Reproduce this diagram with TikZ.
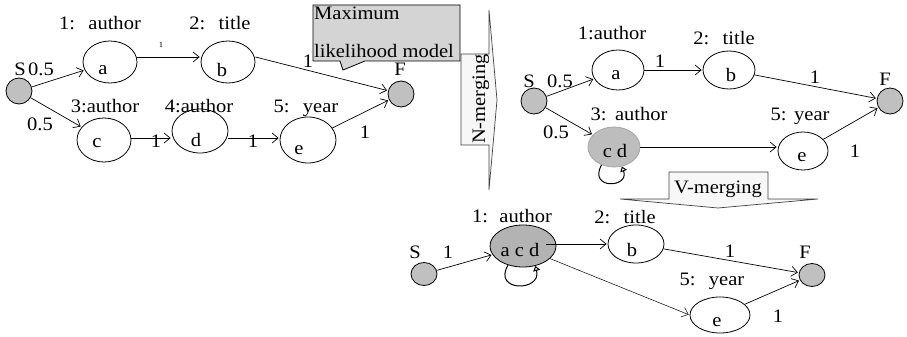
\documentclass[tikz,border=0pt]{standalone}
\usepackage{fontspec}
\setmainfont[FakeStretch=1.08]{Liberation Serif}
\usetikzlibrary{shapes.geometric,arrows.meta}
\definecolor{termgray}{HTML}{C0C0C0}
\definecolor{cdgray}{HTML}{BDBDBD}
\definecolor{acdgray}{HTML}{B3B3B3}
\definecolor{callgray}{HTML}{D4D4D4}
\definecolor{arrowfill}{HTML}{F7F7F7}
\begin{document}
\begin{tikzpicture}[x=1pt,y=-1pt,
  font=\fontsize{19}{22}\selectfont,
  every node/.style={inner sep=0pt},
  state/.style={draw, ellipse, line width=0.8pt},
  term/.style={draw, ellipse, fill=termgray, line width=0.8pt, minimum width=26pt, minimum height=26pt},
  tx/.style n args={3}{label={[anchor=base,xshift=#1pt,yshift=-#2pt]center:#3}},
  lbl/.style={anchor=base},
  edge/.style={draw, line width=0.7pt, -{Straight Barb[length=6pt,width=10pt]}, shorten >=1pt},
  selfloop/.style={draw, line width=1pt, -{Triangle[open,fill=white,length=5pt,width=7pt]}},
  blockarrow/.style={draw=black!75, line width=0.7pt, fill=arrowfill},
]
\useasboundingbox (0,0) rectangle (907,337);

% ---------- left graph ----------
\node[term] (S1) at (19,91) {};
\node[state, minimum width=54pt, minimum height=42pt, tx={-7}{8}{a}] (a1) at (110,62) {};
\node[state, minimum width=54pt, minimum height=42pt, tx={-6}{8}{b}] (b1) at (228,62) {};
\node[term] (F1) at (401,94) {};
\node[state, minimum width=54pt, minimum height=44pt, tx={-7}{3}{c}] (c1) at (104,140) {};
\node[state, minimum width=56pt, minimum height=44pt, tx={-4}{9}{d}] (d1) at (200,131) {};
\node[state, minimum width=56pt, minimum height=46pt, tx={-9}{10}{e}] (e1) at (308,140) {};

\node[lbl] (l1a) at (100,30) {1:\hspace{0.7em}author};
\node[lbl] (l1b) at (220,30) {2:\hspace{0.7em}title};
\node[lbl] (l1c) at (105,112) {3:author};
\node[lbl] (l1d) at (199,112) {4:author};
\node[lbl] (l1e) at (306,112) {5:\hspace{0.7em}year};
\node[lbl] (s1S) at (20,75) {S};
\node[lbl] (s1F) at (400,75) {F};
\node[lbl] (w11) at (41,75) {0.5};
\node[lbl] (w12) at (40,130) {0.5};
\node[lbl, font=\fontsize{8}{9}\selectfont] (w13) at (161,48) {1};
\node[lbl] (w14) at (308,67) {1};
\node[lbl] (w15) at (156,147) {1};
\node[lbl] (w16) at (253,147) {1};
\node[lbl] (w17) at (365,138) {1};

\draw[edge] (S1) -- (a1);
\draw[edge] (S1) -- (c1);
\draw[edge] ([yshift=5pt]a1.east) -- ([yshift=5pt]b1.west);
\draw[edge] ([yshift=5pt]b1.east) -- (F1);
\draw[edge] ([yshift=2pt]c1.east) -- ([yshift=2pt]c1.east -| d1.west);
\draw[edge] ([yshift=-7pt]d1.east) -- ([yshift=-7pt]d1.east -| e1.west);
\draw[edge] (e1) -- (F1);

% ---------- callout ----------
\draw[fill=callgray, line width=0.8pt] (313,5) -- (460,5) -- (460,61) -- (365,61) -- (343,70) -- (340,61) -- (313,61) -- cycle;
\node[anchor=base west] (cm1) at (314,20) {Maximum};
\node[anchor=base west] (cm2) at (314,57) {likelihood model};

% ---------- N-merging arrow ----------
\draw[blockarrow] (461,54) -- (489,54) -- (489,10) -- (497,100) -- (489,190) -- (489,145) -- (461,145) -- cycle;
\node[rotate=90, anchor=base] (nm) at (485,99) {N-merging};

% ---------- right graph ----------
\node[term] (S2) at (534,101) {};
\node[state, minimum width=52pt, minimum height=40pt, tx={-2}{5}{a}] (a2) at (618,70) {};
\node[state, minimum width=52pt, minimum height=38pt, tx={2}{5}{b}] (b2) at (729,70) {};
\node[term] (F2) at (890,101) {};
\node[draw=black!35, ellipse, fill=cdgray, line width=0.8pt, minimum width=52pt, minimum height=40pt, tx={1}{4}{c d}] (cd) at (614,147) {};
\node[state, minimum width=50pt, minimum height=38pt, tx={-1}{6}{e}] (e2) at (803,151) {};

\node[lbl] (l2a) at (612,40) {1:author};
\node[lbl] (l2b) at (724,45) {2:\hspace{0.7em}title};
\node[lbl] (l2c) at (629,120) {3:\hspace{0.45em}author};
\node[lbl] (l2e) at (800,120) {5:\hspace{0.4em}year};
\node[lbl] (s2S) at (529,87) {S};
\node[lbl] (s2F) at (885,85) {F};
\node[lbl] (w21) at (560,87) {0.5};
\node[lbl] (w22) at (556,138) {0.5};
\node[lbl] (w23) at (660,67) {1};
\node[lbl] (w24) at (815,83) {1};
\node[lbl] (w25) at (855,157) {1};

\draw[edge] (S2) -- (a2);
\draw[edge] (S2) -- (cd);
\draw[edge] (a2) -- (b2);
\draw[edge] (b2) -- (F2);
\draw[edge] (cd.east) -- (cd.east -| e2.west);
\draw[edge] (e2) -- (F2);
\draw[selfloop] (cd.235) .. controls (588,190) and (630,188) .. (cd.292);

% ---------- V-merging arrow ----------
\draw[blockarrow] (669,172) -- (768,172) -- (768,199) -- (818,199) -- (718,208) -- (620,199) -- (669,199) -- cycle;
\node[anchor=base] (vm) at (718,193) {V-merging};

% ---------- bottom graph ----------
\node[term, minimum height=23pt] (S3) at (424,274) {};
\node[draw, ellipse, fill=acdgray, line width=0.8pt, minimum width=66pt, minimum height=42pt, tx={-3}{4}{a c d}] (acd) at (523,246) {};
\node[state, minimum width=56pt, minimum height=38pt, tx={-4}{6}{b}] (b3) at (636,244) {};
\node[term, minimum height=23pt] (F3) at (812,275) {};
\node[state, minimum width=60pt, minimum height=36pt, tx={-3}{7}{e}] (e3) at (720,315) {};

\node[lbl] (l3a) at (512,222) {1:\hspace{0.6em}author};
\node[lbl] (l3b) at (625,223) {2:\hspace{0.7em}title};
\node[lbl] (l3e) at (712,285) {5:\hspace{0.7em}year};
\node[lbl] (s3S) at (415,258) {S};
\node[lbl] (s3F) at (805,258) {F};
\node[lbl] (w31) at (448,258) {1};
\node[lbl] (w32) at (730,257) {1};
\node[lbl] (w33) at (778,322) {1};

\draw[edge] (S3) -- (acd);
\draw[edge] ([xshift=-10pt]acd.east |- b3.west) -- (b3.west);
\draw[edge] (b3) -- (F3);
\draw[edge, line width=0.5pt] (acd.-25) -- (e3.west);
\draw[edge] (e3) -- (F3);
\draw[selfloop] (acd.232) .. controls (492,292) and (542,292) .. (acd.302);
\end{tikzpicture}
\end{document}
